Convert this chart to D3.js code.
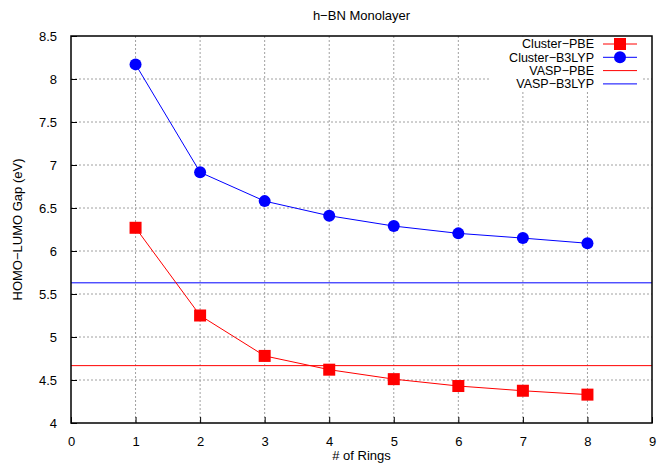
<!DOCTYPE html>
<html>
<head>
<meta charset="utf-8">
<script src="https://cdn.jsdelivr.net/npm/d3@7"></script>
<style>
  body { margin: 0; background: #fff; }
  text { font-family: "Liberation Sans", Arial, sans-serif; fill: #000; }
</style>
</head>
<body>
<div class="chart"></div>
<script>
var rings = [1, 2, 3, 4, 5, 6, 7, 8];
var clusterPBE = [6.27, 5.25, 4.78, 4.62, 4.51, 4.43, 4.375, 4.33];
var clusterB3LYP = [8.17, 6.915, 6.58, 6.41, 6.29, 6.205, 6.15, 6.09];
var vaspPBE = 4.667;
var vaspB3LYP = 5.63;
var xTicks = [0, 1, 2, 3, 4, 5, 6, 7, 8, 9];
var yTicks = [4, 4.5, 5, 5.5, 6, 6.5, 7, 7.5, 8, 8.5];

var W = 657, H = 463;
var margin = {top: 36, right: 5, bottom: 40, left: 71},
    width = W - margin.left - margin.right,
    height = H - margin.top - margin.bottom;

var svg = d3.select(".chart").append("svg").attr("width", W).attr("height", H);
var g = svg.append("g").attr("transform", "translate(" + margin.left + "," + margin.top + ")");

var x = d3.scaleLinear().domain([0, 9]).range([0, width]);
var y = d3.scaleLinear().domain([4, 8.5]).range([height, 0]);

// grid
g.append("g").selectAll("line").data(xTicks.slice(1, -1)).enter().append("line")
  .attr("x1", d => x(d)).attr("x2", d => x(d)).attr("y1", 0).attr("y2", height)
  .attr("stroke", "#a0a0a0").attr("stroke-dasharray", "2,2").attr("stroke-width", 1);
g.append("g").selectAll("line").data(yTicks.slice(1, -1)).enter().append("line")
  .attr("y1", d => y(d)).attr("y2", d => y(d)).attr("x1", 0).attr("x2", width)
  .attr("stroke", "#a0a0a0").attr("stroke-dasharray", "2,2").attr("stroke-width", 1);

// legend background hides grid
g.append("rect").attr("x", 419).attr("y", 1).attr("width", 153).attr("height", 53).attr("fill", "#fff");

// axes (ticks inside, gnuplot style)
var xAxis = d3.axisBottom(x).tickValues(xTicks).tickSize(-6).tickPadding(11).tickFormat(d3.format("d"));
var yAxis = d3.axisLeft(y).tickValues(yTicks).tickSize(-6).tickPadding(14).tickFormat(d => d);
var gx = g.append("g").attr("transform", "translate(0," + height + ")").call(xAxis);
var gy = g.append("g").call(yAxis);
[gx, gy].forEach(function(a) {
  a.select(".domain").remove();
  a.selectAll("text").attr("font-size", 13).attr("font-family", "Liberation Sans, Arial, sans-serif");
  a.selectAll("line").attr("stroke", "#000");
});
gx.selectAll("text").attr("dy", "0.9em");

// horizontal reference lines
g.append("line").attr("x1", 0).attr("x2", width).attr("y1", y(vaspPBE)).attr("y2", y(vaspPBE))
  .attr("stroke", "#ff0000").attr("stroke-width", 1);
g.append("line").attr("x1", 0).attr("x2", width).attr("y1", y(vaspB3LYP)).attr("y2", y(vaspB3LYP))
  .attr("stroke", "#0000ff").attr("stroke-width", 1);

var line = d3.line().x((d, i) => x(rings[i])).y(d => y(d));
g.append("path").datum(clusterPBE).attr("d", line).attr("fill", "none").attr("stroke", "#ff0000").attr("stroke-width", 1);
g.append("path").datum(clusterB3LYP).attr("d", line).attr("fill", "none").attr("stroke", "#0000ff").attr("stroke-width", 1);

g.append("g").selectAll("rect").data(clusterPBE).enter().append("rect")
  .attr("x", (d, i) => x(rings[i]) - 6).attr("y", d => y(d) - 6)
  .attr("width", 12).attr("height", 12).attr("fill", "#ff0000");
g.append("g").selectAll("circle").data(clusterB3LYP).enter().append("circle")
  .attr("cx", (d, i) => x(rings[i])).attr("cy", d => y(d)).attr("r", 6).attr("fill", "#0000ff");

// border
g.append("rect").attr("width", width).attr("height", height).attr("fill", "none")
  .attr("stroke", "#000").attr("stroke-width", 1.5);

// legend
var legend = [
  {name: "Cluster\u2212PBE", color: "#ff0000", mark: "square"},
  {name: "Cluster\u2212B3LYP", color: "#0000ff", mark: "circle"},
  {name: "VASP\u2212PBE", color: "#ff0000", mark: null},
  {name: "VASP\u2212B3LYP", color: "#0000ff", mark: null}
];
var lg = g.selectAll(".leg").data(legend).enter().append("g")
  .attr("transform", (d, i) => "translate(0," + (8 + i * 13.3) + ")");
lg.append("text").attr("x", 523).attr("dy", "0.35em").attr("text-anchor", "end")
  .attr("font-size", 12.5).text(d => d.name);
lg.append("line").attr("x1", 532).attr("x2", 566).attr("stroke", d => d.color).attr("stroke-width", 1);
lg.filter(d => d.mark === "square").append("rect").attr("x", 543).attr("y", -6).attr("width", 12).attr("height", 12).attr("fill", d => d.color);
lg.filter(d => d.mark === "circle").append("circle").attr("cx", 549).attr("r", 6).attr("fill", d => d.color);

// titles
svg.append("text").attr("x", margin.left + width / 2).attr("y", 20).attr("text-anchor", "middle")
  .attr("font-size", 13).text("h\u2212BN Monolayer");
svg.append("text").attr("x", margin.left + width / 2).attr("y", 460).attr("text-anchor", "middle")
  .attr("font-size", 13).text("# of Rings");
svg.append("text").attr("transform", "translate(22," + (margin.top + height / 2) + ") rotate(-90)")
  .attr("text-anchor", "middle").attr("font-size", 13).text("HOMO\u2212LUMO Gap (eV)");
</script>
</body>
</html>
